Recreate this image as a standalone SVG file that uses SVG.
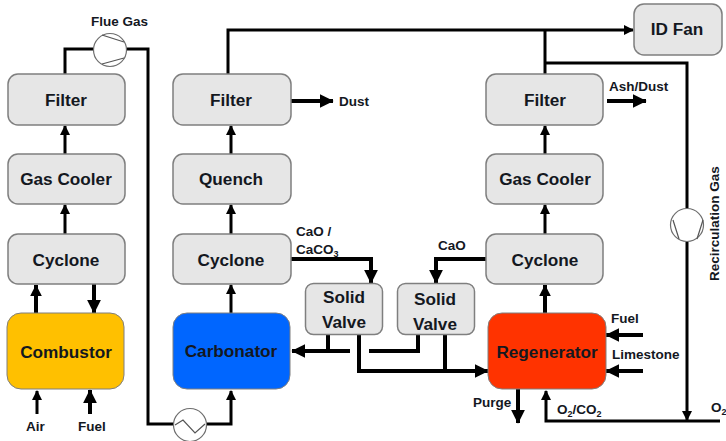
<svg xmlns="http://www.w3.org/2000/svg" width="726" height="441" viewBox="0 0 726 441">
<style>
text{font-family:"Liberation Sans",Arial,sans-serif;font-weight:700;fill:#14181f}
.n{font-size:17.2px;text-anchor:middle}
.l{font-size:13.5px}
.box{fill:#e6e6e6;stroke:#7f7f7f;stroke-width:1.5}
.c{fill:none;stroke:#000;stroke-linejoin:miter}
.w3{stroke-width:3}.w4{stroke-width:4}.w5{stroke-width:5}
.eq{fill:#fff;stroke:#6e6e6e;stroke-width:1.2}
.in{fill:none;stroke:#555;stroke-width:1.2}
</style>
<defs>
<marker id="a" viewBox="0 0 10 10" refX="9" refY="5" markerUnits="userSpaceOnUse" markerWidth="10" markerHeight="10" orient="auto"><path d="M0 0L10 5L0 10Z"/></marker>
<marker id="b" viewBox="0 0 10 10" refX="9.500" refY="5" markerUnits="userSpaceOnUse" markerWidth="12" markerHeight="12" orient="auto"><path d="M0 0L10 5L0 10Z"/></marker>
<marker id="d" viewBox="0 0 10 10" refX="9.500" refY="5" markerUnits="userSpaceOnUse" markerWidth="14" markerHeight="14" orient="auto"><path d="M0 0L10 5L0 10Z"/></marker>
</defs>
<g id="connectors">
<path class="c w3" d="M65 74V49H93M127 49H148V424H175M207 424H231V391" marker-end="url(#a)"/>
<path class="c w3" d="M65 154V126" marker-end="url(#a)"/>
<path class="c w3" d="M65 234V205" marker-end="url(#a)"/>
<path class="c w4" d="M36 313V285" marker-end="url(#b)"/>
<path class="c w4" d="M94 284V313" marker-end="url(#d)"/>
<path class="c w3" d="M37 414V391" marker-end="url(#a)"/>
<path class="c w4" d="M90 414V390" marker-end="url(#d)"/>
<path class="c w3" d="M231 313V285" marker-end="url(#a)"/>
<path class="c w3" d="M231 234V205" marker-end="url(#a)"/>
<path class="c w3" d="M231 154V126" marker-end="url(#a)"/>
<path class="c w3" d="M228 74V30H633" marker-end="url(#a)"/>
<path class="c w4" d="M291 101H333" marker-end="url(#d)"/>
<path class="c w4" d="M290 259H343H371V283" marker-end="url(#d)"/>
<path class="c w4" d="M486 259H436V283" marker-end="url(#d)"/>
<path class="c w4" d="M350 351H292" marker-end="url(#d)"/>
<path class="c w4" d="M328 335V351"/>
<path class="c w4" d="M369 351H418V335"/>
<path class="c w4" d="M359 335V371H488" marker-end="url(#d)"/>
<path class="c w4" d="M445 335V371"/>
<path class="c w3" d="M545 74V30"/>
<path class="c w3" d="M545 63H687V208M687 242V420" marker-end="url(#a)"/>
<path class="c w3" d="M545 154V126" marker-end="url(#a)"/>
<path class="c w3" d="M545 234V205" marker-end="url(#a)"/>
<path class="c w4" d="M545 313V285" marker-end="url(#b)"/>
<path class="c w4" d="M607 101H646" marker-end="url(#d)"/>
<path class="c w4" d="M643 335H606" marker-end="url(#d)"/>
<path class="c w4" d="M643 371H606" marker-end="url(#d)"/>
<path class="c w4" d="M518 389V423" marker-end="url(#d)"/>
<path class="c w3" d="M720 421H546V391" marker-end="url(#a)"/>
</g>
<g id="flue-fan"><circle class="eq" cx="110" cy="50" r="16.500"/><path class="in" d="M102 35L124 42M102 64L124 58"/></g>
<g id="heat-exchanger"><circle class="eq" cx="190" cy="425" r="16.500"/><path class="in" d="M175 425L183 420L195 433L205 424"/></g>
<g id="recirc-fan"><circle class="eq" cx="687" cy="225" r="16.500"/><path class="in" d="M673 220L679 239M703 220L697 239"/></g>
<g id="filter-1"><rect class="box" x="8" y="74" width="117" height="51" rx="10"/><text class="n" x="66" y="106">Filter</text></g>
<g id="gas-cooler-1"><rect class="box" x="8" y="154" width="117" height="50" rx="10"/><text class="n" x="66" y="185">Gas Cooler</text></g>
<g id="cyclone-1"><rect class="box" x="8" y="234" width="117" height="50" rx="10"/><text class="n" x="66" y="266">Cyclone</text></g>
<g id="combustor"><rect x="7" y="313" width="117" height="76" rx="14" fill="#ffc000" stroke="#7f7f7f" stroke-width="1"/><text class="n" x="66" y="358">Combustor</text></g>
<g id="filter-2"><rect class="box" x="173" y="74" width="118" height="51" rx="10"/><text class="n" x="231" y="106">Filter</text></g>
<g id="quench"><rect class="box" x="173" y="154" width="118" height="50" rx="10"/><text class="n" x="231" y="185">Quench</text></g>
<g id="cyclone-2"><rect class="box" x="173" y="234" width="118" height="50" rx="10"/><text class="n" x="231" y="266">Cyclone</text></g>
<g id="carbonator"><rect x="173" y="313" width="117" height="76" rx="14" fill="#0066ff" stroke="#7f7f7f" stroke-width="1"/><text class="n" x="231" y="357">Carbonator</text></g>
<g id="solid-valve-1"><rect class="box" x="305.500" y="283.500" width="77" height="51" rx="8"/><text class="n" x="344" y="303">Solid</text><text class="n" x="344" y="328">Valve</text></g>
<g id="solid-valve-2"><rect class="box" x="397.500" y="283.500" width="77" height="51" rx="8"/><text class="n" x="435" y="305">Solid</text><text class="n" x="435" y="330">Valve</text></g>
<g id="filter-3"><rect class="box" x="486" y="74" width="117" height="51" rx="10"/><text class="n" x="545" y="106">Filter</text></g>
<g id="gas-cooler-2"><rect class="box" x="486" y="154" width="117" height="50" rx="10"/><text class="n" x="545" y="185">Gas Cooler</text></g>
<g id="cyclone-3"><rect class="box" x="486" y="234" width="117" height="50" rx="10"/><text class="n" x="545" y="266">Cyclone</text></g>
<g id="regenerator"><rect x="488" y="313" width="118" height="76" rx="14" fill="#ff3300" stroke="#7f7f7f" stroke-width="1"/><text class="n" x="547" y="358">Regenerator</text></g>
<g id="id-fan"><rect class="box" x="634" y="4" width="88" height="51" rx="10"/><text class="n" x="677" y="35">ID Fan</text></g>
<g id="labels">
<text class="l" x="91" y="26">Flue Gas</text>
<text class="l" x="339" y="106">Dust</text>
<text class="l" x="609" y="91">Ash/Dust</text>
<text class="l" x="296" y="236">CaO /</text>
<text class="l" x="296" y="254">CaCO<tspan font-size="9" dy="3">3</tspan></text>
<text class="l" x="438" y="250">CaO</text>
<text class="l" x="611" y="323">Fuel</text>
<text class="l" x="612" y="359">Limestone</text>
<text class="l" x="473" y="407">Purge</text>
<text class="l" x="557" y="414">O<tspan font-size="9" dy="3">2</tspan><tspan dy="-3">/CO</tspan><tspan font-size="9" dy="3">2</tspan></text>
<text class="l" x="711" y="412">O<tspan font-size="9" dy="3">2</tspan></text>
<text class="l" x="26" y="431">Air</text>
<text class="l" x="78" y="431">Fuel</text>
<text class="l" transform="translate(719 281) rotate(-90)">Recirculation Gas</text>
</g>
</svg>
